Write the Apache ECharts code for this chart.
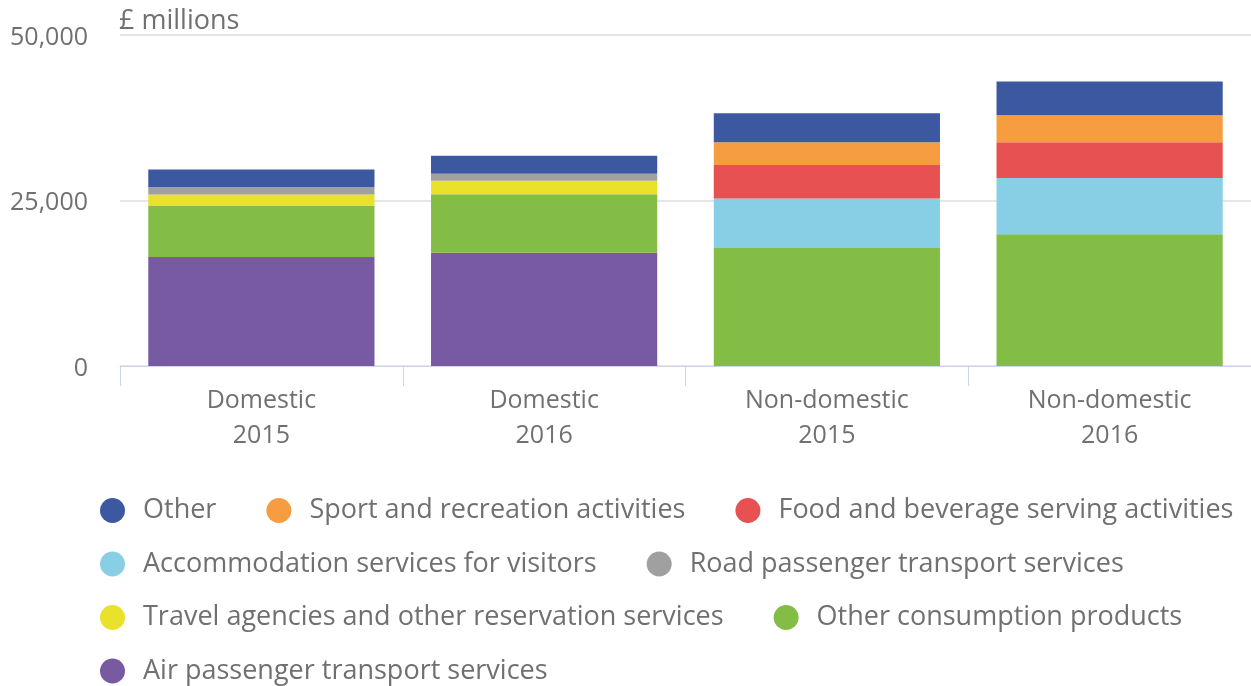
<!DOCTYPE html>
<html>
<head>
<meta charset="utf-8">
<script src="https://cdn.jsdelivr.net/npm/echarts@6/dist/echarts.min.js"></script>
<style>
html,body{margin:0;padding:0;background:#fff;}
#chart{width:1251px;height:686px;}
</style>
</head>
<body>
<div id="chart"></div>
<script>
// Data (stack order bottom to top)
const categories = ['Domestic\n2015', 'Domestic\n2016', 'Non-domestic\n2015', 'Non-domestic\n2016'];
const airPassenger = [16470, 17120, 0, 0];
const otherConsumption = [7770, 8830, 17830, 19890];
const travelAgencies = [1670, 2030, 0, 0];
const roadPassenger = [1100, 1060, 0, 0];
const accommodation = [0, 0, 7470, 8490];
const foodBeverage = [0, 0, 5045, 5405];
const sportRecreation = [0, 0, 3440, 4090];
const other = [2680, 2730, 4395, 5105];
const yTicks = [0, 25000, 50000];

const seriesDefs = [
  {name: 'Air passenger transport services', data: airPassenger, color: '#775AA1'},
  {name: 'Other consumption products', data: otherConsumption, color: '#84BD45'},
  {name: 'Travel agencies and other reservation services', data: travelAgencies, color: '#EAE22A'},
  {name: 'Road passenger transport services', data: roadPassenger, color: '#A0A0A0'},
  {name: 'Accommodation services for visitors', data: accommodation, color: '#88CFE5'},
  {name: 'Food and beverage serving activities', data: foodBeverage, color: '#E85151'},
  {name: 'Sport and recreation activities', data: sportRecreation, color: '#F59D40'},
  {name: 'Other', data: other, color: '#3C58A0'}
];
const legendOrder = seriesDefs.map(s => s.name).slice().reverse();

const FONT = "'Open Sans', sans-serif";
const chart = echarts.init(document.getElementById('chart'), null, {renderer: 'canvas'});
chart.setOption({
  animation: false,
  backgroundColor: '#ffffff',
  textStyle: {fontFamily: FONT},
  title: {
    text: '£ millions',
    left: 119, top: 8, padding: 0,
    textStyle: {fontFamily: FONT, fontSize: 27, fontWeight: 'normal', color: '#707070'}
  },
  grid: {left: 120, top: 35, width: 1137, height: 331, containLabel: false},
  legend: {
    data: legendOrder,
    left: 100, top: 497, width: 1175, padding: 0,
    orient: 'horizontal',
    icon: 'circle',
    itemWidth: 25, itemHeight: 25,
    itemGap: 26.5,
    textStyle: {fontFamily: FONT, fontSize: 27, color: '#707070', padding: [0, 23.5, 0, 13], lineHeight: 25}
  },
  xAxis: {
    type: 'category',
    data: categories,
    axisLine: {show: true, lineStyle: {color: '#CCD6EB', width: 1}},
    axisTick: {show: true, length: 20, lineStyle: {color: '#CCD6EB'}},
    axisLabel: {fontFamily: FONT, fontSize: 25, color: '#707070', lineHeight: 35, margin: 17}
  },
  yAxis: {
    type: 'value',
    min: yTicks[0], max: yTicks[yTicks.length - 1], interval: 25000,
    axisLine: {show: false},
    axisTick: {show: false},
    splitLine: {lineStyle: {color: '#E6E6E6', width: 2}},
    axisLabel: {
      fontFamily: FONT, fontSize: 25, color: '#707070', margin: 32,
      verticalAlign: 'top', lineHeight: 5,
      formatter: v => v.toLocaleString('en-GB')
    }
  },
  series: seriesDefs.map(s => ({
    name: s.name,
    type: 'bar',
    stack: 'total',
    data: s.data,
    barCategoryGap: '20%',
    itemStyle: {color: s.color},
    emphasis: {disabled: true}
  }))
});
</script>
</body>
</html>
